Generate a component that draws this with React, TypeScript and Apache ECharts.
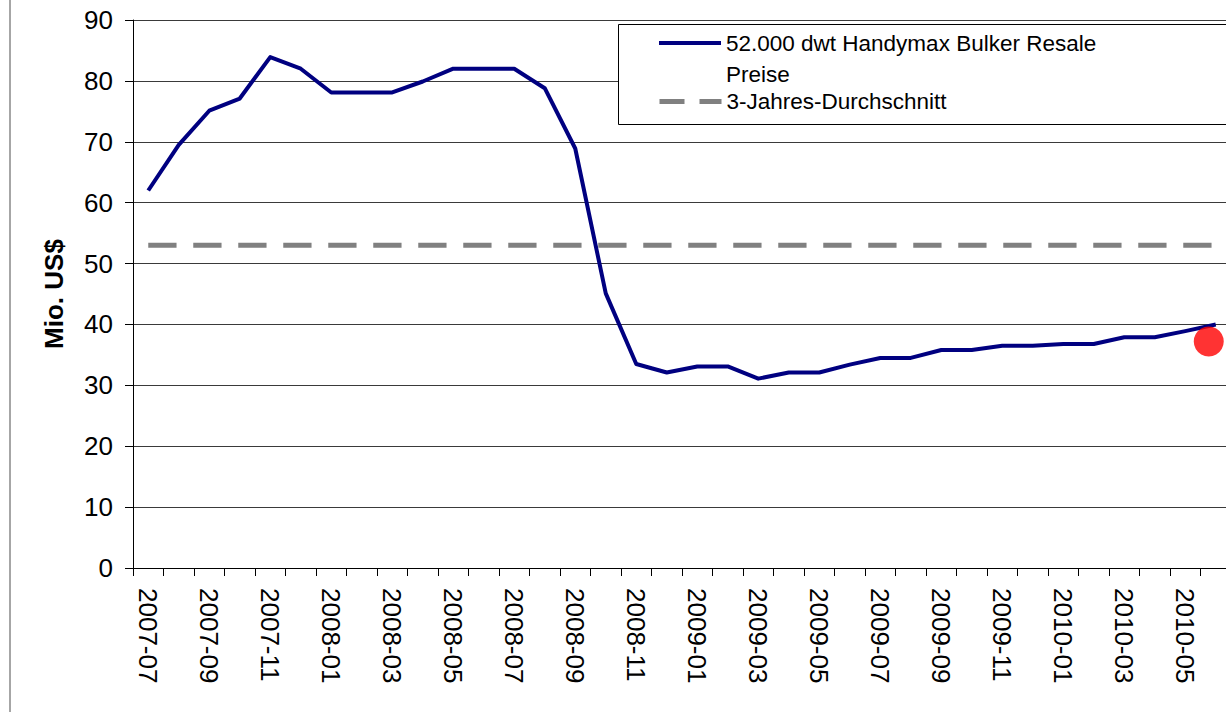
import React, { useEffect, useRef } from "react";
import * as echarts from "echarts";

const categories = [
  "2007-07", "2007-08", "2007-09", "2007-10", "2007-11", "2007-12",
  "2008-01", "2008-02", "2008-03", "2008-04", "2008-05", "2008-06",
  "2008-07", "2008-08", "2008-09", "2008-10", "2008-11", "2008-12",
  "2009-01", "2009-02", "2009-03", "2009-04", "2009-05", "2009-06",
  "2009-07", "2009-08", "2009-09", "2009-10", "2009-11", "2009-12",
  "2010-01", "2010-02", "2010-03", "2010-04", "2010-05", "2010-06",
];

const resalePrices = [
  62, 69.5, 75.1, 77.1, 83.9, 82,
  78.1, 78.1, 78.1, 79.9, 82, 82,
  82, 78.8, 68.9, 45.1, 33.5, 32.1,
  33.1, 33.1, 31.1, 32.1, 32.1, 33.4,
  34.5, 34.5, 35.8, 35.8, 36.5, 36.5,
  36.8, 36.8, 37.9, 37.9, 38.9, 40,
];

const threeYearAverage = 53;
const currentPoint = { month: "2010-06", value: 37.2 };

const yTicks = { min: 0, max: 90, interval: 10 };

const seriesNames = {
  price: "52.000 dwt Handymax Bulker Resale Preise",
  avg: "3-Jahres-Durchschnitt",
};

const FONT = "'Liberation Sans', Arial, Helvetica, sans-serif";

export default function App() {
  const ref = useRef<HTMLDivElement>(null);

  useEffect(() => {
    if (!ref.current) return;
    const chart = echarts.init(ref.current, null, { renderer: "svg" });
    const avgData = categories.map(() => threeYearAverage);

    chart.setOption({
      animation: false,
      backgroundColor: "#ffffff",
      textStyle: { fontFamily: FONT, color: "#000" },
      grid: {
        left: 133,
        top: 20,
        right: -5,
        bottom: 144,
        containLabel: false,
        outerBoundsMode: "none",
      },
      graphic: [
        {
          type: "line",
          shape: { x1: 10, y1: 0, x2: 10, y2: 712 },
          style: { stroke: "#a6a6a6", lineWidth: 2 },
          z: 1,
        },
        {
          type: "rect",
          shape: { x: 618.5, y: 24.5, width: 700, height: 100 },
          style: { fill: "#ffffff", stroke: "#000000", lineWidth: 1 },
          z: 3,
        },
      ],
      legend: [
        {
          data: [seriesNames.price],
          left: 657,
          top: 0.5,
          padding: 0,
          itemWidth: 62,
          itemHeight: 14,
          z: 5,
          itemStyle: { opacity: 0 },
          lineStyle: { width: 4, color: "#000080", type: "solid" },
          formatter: () => "{e| }\n{t|52.000 dwt Handymax Bulker Resale}\n{t|Preise}",
          textStyle: {
            fontFamily: FONT,
            color: "#000",
            rich: {
              e: { fontSize: 22.5, lineHeight: 31, fontFamily: FONT },
              t: { fontSize: 22.5, lineHeight: 31, fontFamily: FONT, color: "#000" },
            },
          },
        },
        {
          data: [seriesNames.avg],
          left: 657,
          top: 88.5,
          padding: 0,
          itemWidth: 62,
          itemHeight: 14,
          z: 5,
          itemStyle: { opacity: 0 },
          lineStyle: { width: 5, color: "#808080", type: [25, 15], cap: "butt" },
          textStyle: { fontFamily: FONT, color: "#000", fontSize: 22.5, lineHeight: 26 },
        },
      ],
      xAxis: {
        type: "category",
        data: categories,
        boundaryGap: true,
        axisLine: { show: true, lineStyle: { color: "#000", width: 1 } },
        axisTick: { show: true, interval: 0, length: 8, lineStyle: { color: "#000" } },
        axisLabel: {
          interval: 1,
          rotate: -90,
          margin: 20,
          fontSize: 26,
          fontFamily: FONT,
          color: "#000",
        },
        splitLine: { show: false },
      },
      yAxis: {
        type: "value",
        min: yTicks.min,
        max: yTicks.max,
        interval: yTicks.interval,
        name: "Mio. US$",
        nameLocation: "middle",
        nameRotate: 90,
        nameGap: 66,
        nameTextStyle: { fontSize: 26, fontWeight: "bold", fontFamily: FONT, color: "#000" },
        axisLine: { show: true, lineStyle: { color: "#000", width: 1 } },
        axisTick: { show: true, length: 8, lineStyle: { color: "#000" } },
        axisLabel: { margin: 20, fontSize: 26, fontFamily: FONT, color: "#000" },
        splitLine: { show: true, lineStyle: { color: "#3a3a3a", width: 1 } },
      },
      series: [
        {
          name: seriesNames.price,
          type: "line",
          data: resalePrices,
          symbol: "none",
          lineStyle: { color: "#000080", width: 4, join: "round" },
          itemStyle: { color: "#000080" },
          z: 2,
        },
        {
          name: seriesNames.avg,
          type: "line",
          data: avgData,
          symbol: "none",
          lineStyle: { color: "#808080", width: 5, type: [28.3, 16.7], cap: "butt" },
          itemStyle: { color: "#808080" },
          z: 2,
        },
        {
          name: "Aktuell",
          type: "scatter",
          data: [[currentPoint.month, currentPoint.value]],
          symbol: "circle",
          symbolSize: 30,
          symbolOffset: [-7, 0],
          itemStyle: { color: "#ff0000" },
          z: 4,
        },
      ],
    });

    return () => chart.dispose();
  }, []);

  return (
    <div
      ref={ref}
      style={{ position: "fixed", left: 0, top: 0, width: 1226, height: 712, background: "#fff" }}
    />
  );
}
